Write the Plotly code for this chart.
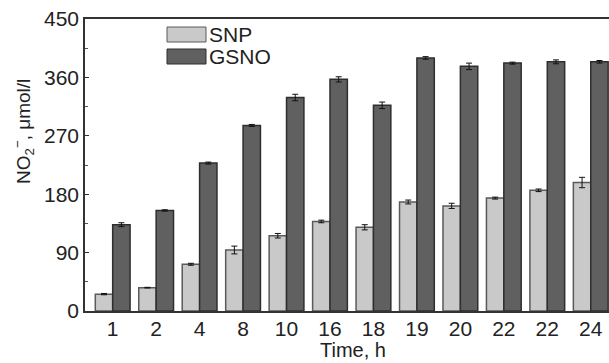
import plotly.graph_objects as go

time_labels = ["1", "2", "4", "8", "10", "16", "18", "19", "20", "22", "22", "24"]
snp_values = [26, 36, 72, 94, 116, 138, 129, 168, 162, 174, 186, 198]
snp_errors = [1, 0.5, 1.5, 6, 3.5, 2, 4, 3, 4, 1.5, 2, 8]
gsno_values = [133, 155, 228, 286, 329, 357, 317, 390, 377, 382, 384, 384]
gsno_errors = [3, 1, 1.5, 1.5, 5, 4, 5, 2, 5, 1.5, 3, 2]

series_names = ["SNP", "GSNO"]
y_ticks = [0, 90, 180, 270, 360, 450]

x_idx = list(range(len(time_labels)))
font_family = "Liberation Sans, Arial, sans-serif"
txt = "#222222"

snp_fill, snp_line = "#c9c9ca", "#5a5a5a"
gsno_fill, gsno_line = "#606060", "#2e2e2e"

# plot area in pixels
PL, PR, PT, PB = 85, 609, 19, 311
PW, PH = PR - PL, PB - PT


def px(x):
    return (x - PL) / PW


def py(y):
    return (PB - y) / PH


fig = go.Figure()
fig.add_trace(go.Bar(
    x=x_idx, y=snp_values, name=series_names[0],
    marker=dict(color=snp_fill, line=dict(color=snp_line, width=1.5)),
    error_y=dict(type="data", array=snp_errors, color="#111111", thickness=1, width=3),
    showlegend=False,
))
fig.add_trace(go.Bar(
    x=x_idx, y=gsno_values, name=series_names[1],
    marker=dict(color=gsno_fill, line=dict(color=gsno_line, width=1.5)),
    error_y=dict(type="data", array=gsno_errors, color="#111111", thickness=1, width=3),
    showlegend=False,
))

# manual legend with wide swatches
legend_items = [(series_names[0], snp_fill, snp_line), (series_names[1], gsno_fill, gsno_line)]
for i, (nm, fc, lc) in enumerate(legend_items):
    y0 = 27 + i * 22
    fig.add_shape(type="rect", xref="paper", yref="paper",
                  x0=px(167), x1=px(206), y0=py(y0 + 15), y1=py(y0),
                  fillcolor=fc, line=dict(color=lc, width=1))
    fig.add_annotation(xref="paper", yref="paper",
                       x=px(207), y=py(y0 + 7.5),
                       text=nm, showarrow=False, xanchor="left", yanchor="middle",
                       font=dict(family=font_family, size=21, color=txt))

# axis titles as annotations for exact placement
fig.add_annotation(xref="paper", yref="paper", x=px(353), y=py(350),
                   text="Time, h", showarrow=False, xanchor="center", yanchor="middle",
                   font=dict(family=font_family, size=20, color=txt))
fig.add_annotation(xref="paper", yref="paper", x=px(23), y=py(132),
                   text="NO<sub>2</sub><sup>−</sup>, μmol/l", showarrow=False, textangle=-90,
                   xanchor="center", yanchor="middle",
                   font=dict(family=font_family, size=19, color=txt))

fig.update_layout(
    width=609, height=363,
    margin=dict(l=PL, r=609 - PR, t=PT, b=363 - PB),
    paper_bgcolor="white", plot_bgcolor="white",
    barmode="group", bargap=0.2, bargroupgap=0,
    font=dict(family=font_family, size=20, color=txt),
    xaxis=dict(
        tickmode="array", tickvals=x_idx, ticktext=time_labels,
        range=[-0.637, 11.42],
        showline=True, linecolor="#333333", linewidth=1.5, mirror=True,
        ticks="", showgrid=False, zeroline=False,
        tickfont=dict(size=21, color=txt), ticklabelstandoff=-2,
    ),
    yaxis=dict(
        range=[0, 450], tickmode="array", tickvals=y_ticks,
        showline=True, linecolor="#333333", linewidth=1.5,
        ticks="inside", ticklen=4, tickcolor="#333333",
        minor=dict(dtick=45, tick0=0, ticks="inside", ticklen=3, tickcolor="#555555", showgrid=False),
        showgrid=False, zeroline=False,
        tickfont=dict(size=21, color=txt),
    ),
)

fig.write_html("out.html", config={"displayModeBar": False},
               post_script="document.body.style.margin='0';document.body.style.overflow='hidden';")
